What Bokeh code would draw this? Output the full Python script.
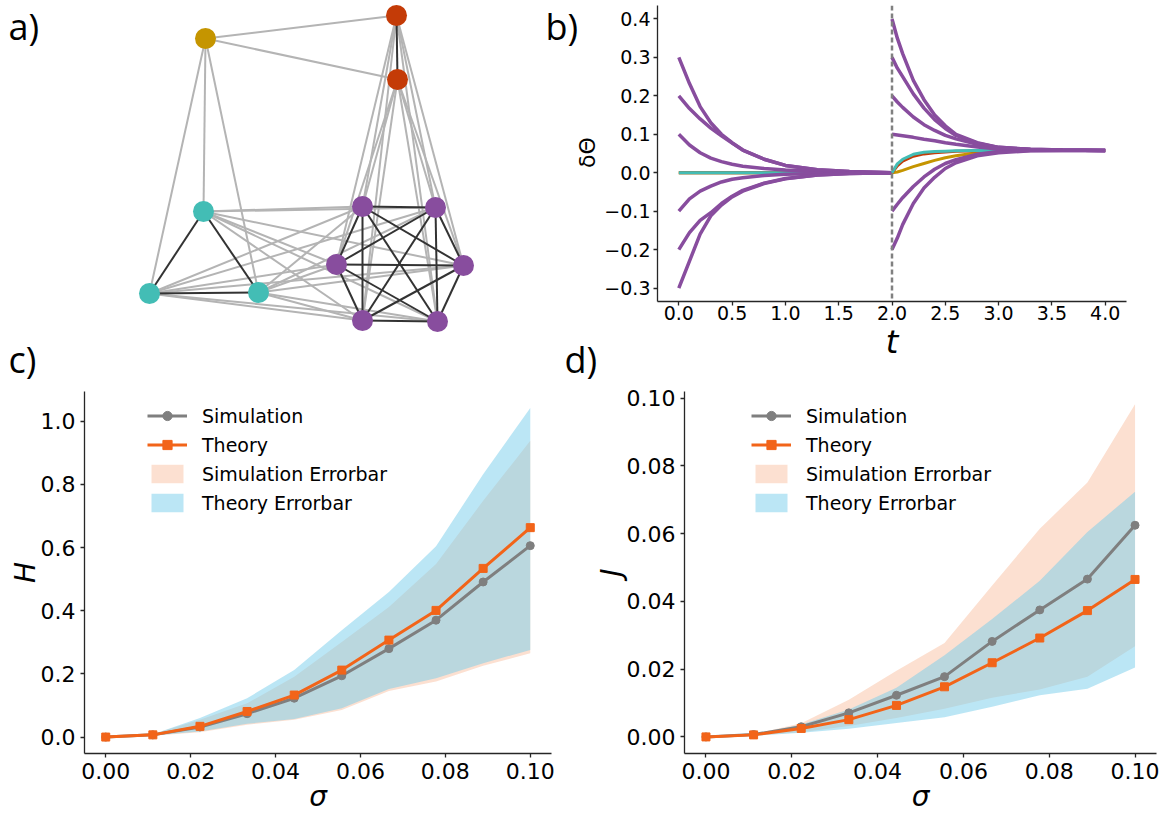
import itertools
import math
from bokeh.plotting import figure
from bokeh.layouts import row, column
from bokeh.models import (Range1d, FixedTicker, Label, Legend, LegendItem,
                          PrintfTickFormatter, Span)
from bokeh.embed import file_html
from bokeh.resources import INLINE

FONT = "DejaVu Sans"
LABEL_FONT = "Open Sans"

# ---------------- panel a: network ----------------
node_names = ["g0", "r0", "r1", "c0", "c1", "c2", "p0", "p1", "p2", "p3", "p4", "p5"]
node_group = ["gold", "red", "red", "teal", "teal", "teal",
              "purple", "purple", "purple", "purple", "purple", "purple"]
node_x = [205, 396, 397, 203, 149, 258, 362, 435, 336, 463, 362, 437]
node_y = [38, 15, 79, 211, 293, 292, 206, 207, 264, 265, 320, 321]
linked_groups = [("gold", "red"), ("gold", "teal"), ("red", "purple"), ("teal", "purple")]

# ---------------- panel b: dynamics ----------------
t_first = [0.0, 0.1, 0.2, 0.3, 0.4, 0.5, 0.6, 0.8, 1.0, 1.3, 1.6, 2.0]
first_purple = [
    [0.30, 0.232, 0.172, 0.130, 0.100, 0.078, 0.059, 0.035, 0.019, 0.008, 0.003, 0.0],
    [0.20, 0.167, 0.140, 0.116, 0.096, 0.077, 0.059, 0.035, 0.019, 0.008, 0.003, 0.0],
    [0.10, 0.072, 0.052, 0.038, 0.029, 0.022, 0.017, 0.011, 0.007, 0.003, 0.001, 0.0],
    [-0.10, -0.068, -0.048, -0.035, -0.024, -0.017, -0.013, -0.007, -0.004, -0.002, -0.001, 0.0],
    [-0.20, -0.156, -0.124, -0.104, -0.080, -0.061, -0.046, -0.027, -0.015, -0.006, -0.002, 0.0],
    [-0.30, -0.230, -0.160, -0.112, -0.084, -0.063, -0.048, -0.028, -0.016, -0.006, -0.002, 0.0],
]
first_gold = [0.0, 0.0, 0.0, 0.0, 0.0, 0.0, 0.0, 0.0, 0.0, 0.0, 0.0, 0.0]
first_red = [0.0, 0.0, 0.0, 0.0, 0.0, 0.0, 0.0, 0.0, 0.0, 0.0, 0.0, 0.0]
first_teal = [0.0, 0.0, 0.0, 0.0, 0.0, 0.0, 0.0, 0.0, 0.0, 0.0, 0.0, 0.0]

t_second = [2.0, 2.05, 2.1, 2.2, 2.3, 2.4, 2.5, 2.6, 2.8, 3.0, 3.3, 3.6, 4.0]
second_purple = [
    [0.40, 0.350, 0.310, 0.240, 0.190, 0.150, 0.122, 0.100, 0.078, 0.066, 0.061, 0.059, 0.058],
    [0.30, 0.272, 0.250, 0.205, 0.168, 0.138, 0.115, 0.097, 0.077, 0.066, 0.061, 0.059, 0.058],
    [0.20, 0.184, 0.170, 0.145, 0.125, 0.110, 0.097, 0.088, 0.074, 0.065, 0.060, 0.059, 0.058],
    [0.10, 0.098, 0.096, 0.092, 0.087, 0.083, 0.078, 0.074, 0.067, 0.062, 0.060, 0.059, 0.058],
    [-0.10, -0.082, -0.065, -0.036, -0.011, 0.009, 0.024, 0.034, 0.048, 0.055, 0.058, 0.058, 0.058],
    [-0.20, -0.170, -0.135, -0.080, -0.040, -0.012, 0.011, 0.026, 0.044, 0.052, 0.057, 0.058, 0.058],
]
second_gold = [0.0, 0.002, 0.006, 0.016, 0.024, 0.032, 0.039, 0.044, 0.052, 0.056, 0.058, 0.058, 0.058]
second_red = [0.0, 0.018, 0.030, 0.043, 0.049, 0.052, 0.054, 0.056, 0.057, 0.058, 0.058, 0.058, 0.058]
second_teal = [0.0, 0.023, 0.035, 0.048, 0.053, 0.055, 0.056, 0.057, 0.058, 0.058, 0.058, 0.058, 0.058]
t_switch = 2.0

b_yticks = [-0.3, -0.2, -0.1, 0.0, 0.1, 0.2, 0.3, 0.4]
b_ylabels = ["\u22120.3", "\u22120.2", "\u22120.1", "0.0", "0.1", "0.2", "0.3", "0.4"]
b_xticks = [0.0, 0.5, 1.0, 1.5, 2.0, 2.5, 3.0, 3.5, 4.0]
b_xlabel = "t"
b_ylabel = "δΘ"

# ---------------- panels c, d ----------------
sigma = [0.0, 0.0111, 0.0222, 0.0333, 0.0444, 0.0556, 0.0667, 0.0778, 0.0889, 0.1]
H_sim = [0.0, 0.007, 0.032, 0.074, 0.123, 0.194, 0.280, 0.370, 0.491, 0.606]
H_theory = [0.0, 0.007, 0.034, 0.081, 0.133, 0.212, 0.307, 0.401, 0.534, 0.663]
H_sim_lo = [0.0, 0.004, 0.015, 0.039, 0.055, 0.086, 0.146, 0.176, 0.226, 0.265]
H_sim_hi = [0.0, 0.010, 0.055, 0.107, 0.191, 0.301, 0.412, 0.548, 0.748, 0.938]
H_th_lo = [0.0, 0.005, 0.018, 0.042, 0.057, 0.091, 0.152, 0.186, 0.234, 0.276]
H_th_hi = [0.0, 0.009, 0.060, 0.123, 0.212, 0.338, 0.459, 0.604, 0.832, 1.042]

J_sim = [0.0, 0.0007, 0.0030, 0.0071, 0.0123, 0.0178, 0.0282, 0.0375, 0.0466, 0.0625]
J_theory = [0.0, 0.0006, 0.0025, 0.0051, 0.0093, 0.0148, 0.0219, 0.0292, 0.0373, 0.0465]
J_sim_lo = [0.0, 0.0004, 0.0014, 0.0032, 0.0056, 0.0083, 0.0116, 0.0140, 0.0178, 0.0268]
J_sim_hi = [0.0, 0.0008, 0.0040, 0.0110, 0.0195, 0.0277, 0.0447, 0.0615, 0.0751, 0.0982]
J_th_lo = [0.0, 0.0003, 0.0012, 0.0024, 0.0041, 0.0058, 0.0089, 0.0123, 0.0142, 0.0205]
J_th_hi = [0.0, 0.0006, 0.0037, 0.0081, 0.0145, 0.0241, 0.0348, 0.0461, 0.0605, 0.0724]

sigma_ticks = [0.0, 0.02, 0.04, 0.06, 0.08, 0.10]
H_ticks = [0.0, 0.2, 0.4, 0.6, 0.8, 1.0]
J_ticks = [0.0, 0.02, 0.04, 0.06, 0.08, 0.10]
legend_labels = ["Simulation", "Theory", "Simulation Errorbar", "Theory Errorbar"]

# ---------------- styles ----------------
GROUP_COLOR = {"gold": "#c59500", "red": "#c43b07", "teal": "#43bdb5", "purple": "#884d9e"}
EDGE_IN = "#333333"
EDGE_OUT = "#b4b4b4"
GRAY = "#7f7f7f"
ORANGE = "#f26419"
SKY = "#77cdeb"
AX = "#262626"

TOP_H = 385          # height of the upper block
A_H = 334            # height of the network panel / upper label strips
BOT_H = 816 - TOP_H  # 431


def style_axes(p, tick_px):
    for ax in list(p.xaxis) + list(p.yaxis):
        ax.axis_line_color = AX
        ax.axis_line_width = 1.3
        ax.major_tick_line_color = AX
        ax.major_tick_line_width = 1.3
        ax.major_tick_out = 4
        ax.major_tick_in = 0
        ax.minor_tick_line_color = None
        ax.major_label_text_font = FONT
        ax.major_label_text_font_size = f"{tick_px}px"
        ax.major_label_text_color = "black"
        ax.axis_label_text_font = FONT
        ax.axis_label_text_color = "black"
    p.xgrid.visible = False
    p.ygrid.visible = False
    p.outline_line_color = None
    p.background_fill_color = "white"
    p.border_fill_color = "white"


def blank(width, height):
    """A figure without axes whose data units equal its pixels (y downward)."""
    p = figure(width=width, height=height, x_range=Range1d(0, width), y_range=Range1d(height, 0),
               x_axis_type=None, y_axis_type=None, output_backend="svg",
               toolbar_location=None, min_border=0, title=None)
    p.xgrid.visible = False
    p.ygrid.visible = False
    p.outline_line_color = None
    return p


def panel_label(p, text, x, y):
    p.add_layout(Label(x=x, y=y, text=text, text_font=LABEL_FONT, text_font_size="36px",
                       text_baseline="middle", text_align="left", text_color="black"))


# ---------------- panel a ----------------
pa = blank(540, A_H)
in_x0, in_y0, in_x1, in_y1 = [], [], [], []
out_x0, out_y0, out_x1, out_y1 = [], [], [], []
for i, j in itertools.combinations(range(len(node_names)), 2):
    gi, gj = node_group[i], node_group[j]
    if gi == gj:
        in_x0.append(node_x[i]); in_y0.append(node_y[i]); in_x1.append(node_x[j]); in_y1.append(node_y[j])
    elif (gi, gj) in linked_groups or (gj, gi) in linked_groups:
        out_x0.append(node_x[i]); out_y0.append(node_y[i]); out_x1.append(node_x[j]); out_y1.append(node_y[j])
pa.segment(out_x0, out_y0, out_x1, out_y1, line_color=EDGE_OUT, line_width=2)
pa.segment(in_x0, in_y0, in_x1, in_y1, line_color=EDGE_IN, line_width=2)
pa.scatter(node_x, node_y, size=21, marker="circle",
           color=[GROUP_COLOR[g] for g in node_group], line_color=None)
panel_label(pa, "a)", 8, 26)

# strip under panel a holding "c)"
pcl = blank(540, TOP_H - A_H)
panel_label(pcl, "c)", 8, 25)

# ---------------- strips left of panel b ----------------
pbl_top = blank(60, A_H)
panel_label(pbl_top, "b)", 5, 26)
pbl_top.add_layout(Label(x=47, y=152, text=b_ylabel, text_font=FONT, text_font_size="22px",
                         angle=math.pi / 2, text_align="center", text_baseline="middle",
                         text_color="black"))
pbl_bot = blank(60, TOP_H - A_H)
panel_label(pbl_bot, "d)", 24, 25)

# ---------------- panel b ----------------
pb = figure(width=568, height=TOP_H, x_range=Range1d(-0.2, 4.2), y_range=Range1d(-0.335, 0.435),
            output_backend="svg", toolbar_location=None, title=None,
            min_border_left=57, min_border_right=42, min_border_top=5,
            min_border_bottom=TOP_H - 301)
style_axes(pb, 19)
pb.xaxis.ticker = FixedTicker(ticks=b_xticks)
pb.xaxis.formatter = PrintfTickFormatter(format="%.1f")
pb.xaxis.major_label_standoff = 0
pb.xaxis.axis_label = b_xlabel
pb.xaxis.axis_label_text_font_size = "32px"
pb.xaxis.axis_label_text_font_style = "italic"
pb.xaxis.axis_label_standoff = 0
pb.yaxis.ticker = FixedTicker(ticks=b_yticks)
pb.yaxis.major_label_overrides = dict(zip(b_yticks, b_ylabels))
pb.yaxis.major_label_standoff = 3

for ys, col in [(first_gold, "gold"), (first_red, "red"), (first_teal, "teal")]:
    pb.line(t_first, ys, line_color=GROUP_COLOR[col], line_width=3)
for ys in first_purple:
    pb.line(t_first, ys, line_color=GROUP_COLOR["purple"], line_width=3.5)
for ys, col in [(second_gold, "gold"), (second_red, "red"), (second_teal, "teal")]:
    pb.line(t_second, ys, line_color=GROUP_COLOR[col], line_width=3)
for ys in second_purple:
    pb.line(t_second, ys, line_color=GROUP_COLOR["purple"], line_width=3.5)
pb.add_layout(Span(location=t_switch, dimension="height", line_color="#808080",
                   line_dash="5 3", line_width=2.5))


# ---------------- panels c, d ----------------
def sigma_panel(width, borders, yr, y_ticks, y_fmt, ylabel, sim, th, sim_lo, sim_hi, th_lo, th_hi, loc):
    l, r, t, b = borders
    p = figure(width=width, height=BOT_H, x_range=Range1d(-0.005, 0.105), y_range=Range1d(*yr),
               output_backend="svg", toolbar_location=None, title=None,
               min_border_left=l, min_border_right=r, min_border_top=t, min_border_bottom=b)
    style_axes(p, 22)
    p.xaxis.ticker = FixedTicker(ticks=sigma_ticks)
    p.xaxis.formatter = PrintfTickFormatter(format="%.2f")
    p.yaxis.ticker = FixedTicker(ticks=y_ticks)
    p.yaxis.formatter = PrintfTickFormatter(format=y_fmt)
    p.xaxis.axis_label = "σ"
    p.xaxis.axis_label_text_font_size = "28px"
    p.xaxis.axis_label_text_font_style = "italic"
    p.xaxis.axis_label_standoff = -2
    p.yaxis.axis_label = ylabel
    p.yaxis.axis_label_text_font_size = "28px"
    p.yaxis.axis_label_text_font_style = "italic"
    p.yaxis.axis_label_standoff = -4

    sim_band = p.varea(x=sigma, y1=sim_lo, y2=sim_hi, fill_color=ORANGE, fill_alpha=0.2)
    th_band = p.varea(x=sigma, y1=th_lo, y2=th_hi, fill_color=SKY, fill_alpha=0.5)
    sim_line = p.line(sigma, sim, line_color=GRAY, line_width=3)
    sim_pts = p.scatter(sigma, sim, marker="circle", size=8, color=GRAY)
    th_line = p.line(sigma, th, line_color=ORANGE, line_width=3)
    th_pts = p.scatter(sigma, th, marker="square", size=8, color=ORANGE)

    legend = Legend(items=[
        LegendItem(label=legend_labels[0], renderers=[sim_line, sim_pts]),
        LegendItem(label=legend_labels[1], renderers=[th_line, th_pts]),
        LegendItem(label=legend_labels[2], renderers=[sim_band]),
        LegendItem(label=legend_labels[3], renderers=[th_band]),
    ], location=loc)
    legend.background_fill_alpha = 0
    legend.border_line_alpha = 0
    legend.padding = 0
    legend.margin = 0
    legend.spacing = 6
    legend.glyph_width = 40
    legend.glyph_height = 23
    legend.label_height = 23
    legend.label_standoff = 15
    legend.label_text_font = FONT
    legend.label_text_font_size = "19px"
    legend.label_text_color = "black"
    legend.label_text_baseline = "middle"
    p.add_layout(legend)
    return p


pc = sigma_panel(580, (84, 29, 6, 63), (-0.052, 1.094), H_ticks, "%.1f", "H",
                 H_sim, H_theory, H_sim_lo, H_sim_hi, H_th_lo, H_th_hi, (63, 239))
pd = sigma_panel(588, (104, 12, 6, 63), (-0.0049, 0.102), J_ticks, "%.2f", "J",
                 J_sim, J_theory, J_sim_lo, J_sim_hi, J_th_lo, J_th_hi, (67, 239))

layout = column(row(column(pa, pcl), column(pbl_top, pbl_bot), pb), row(pc, pd))
open("out.html", "w").write(file_html(layout, INLINE))
